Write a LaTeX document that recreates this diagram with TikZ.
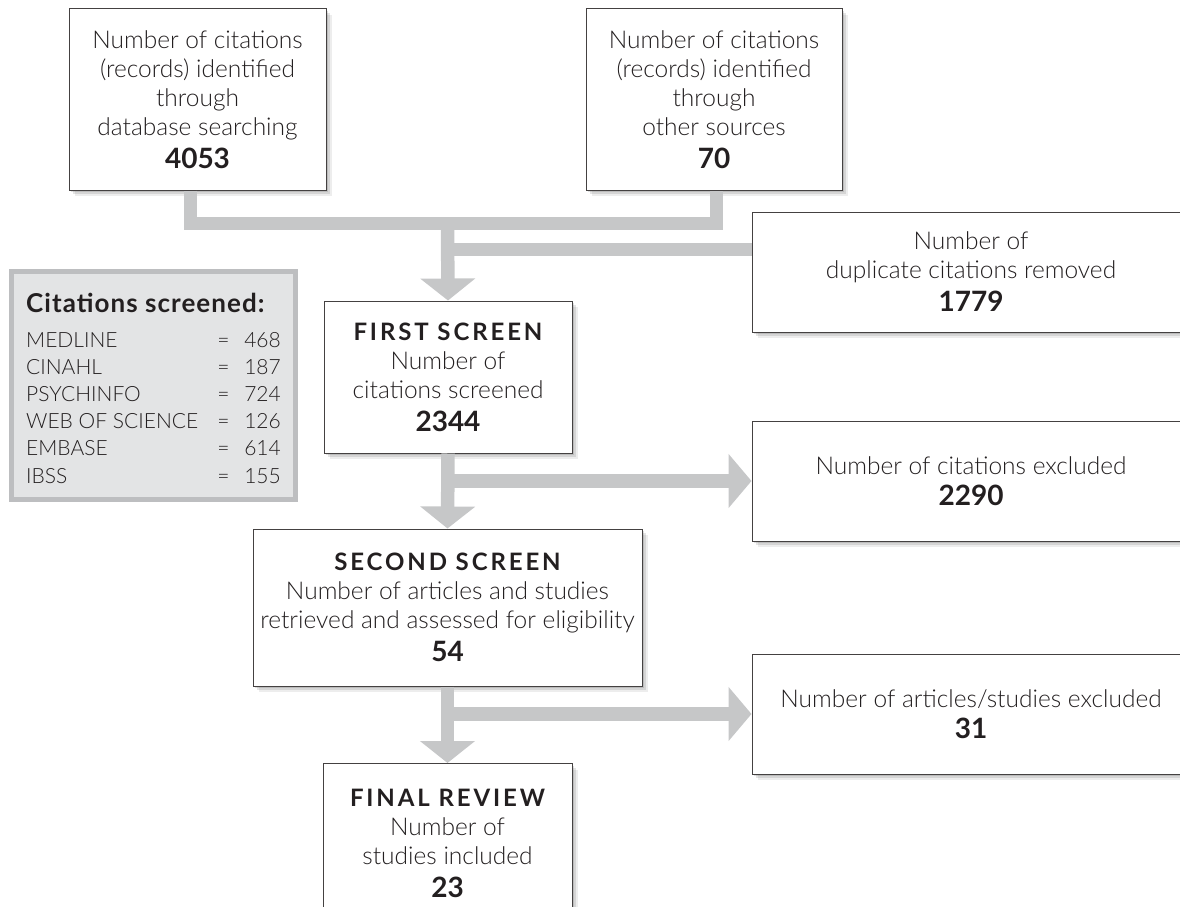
\documentclass[tikz,border=0pt]{standalone}
\usepackage{fontspec}
\setmainfont{Lato}[UprightFont=* Light, BoldFont=* Bold]
\usetikzlibrary{arrows.meta, shadows, positioning}
\definecolor{connGrey}{HTML}{C6C7C8}
\definecolor{listFill}{HTML}{E3E4E5}
\definecolor{listEdge}{HTML}{BDBEC0}
\definecolor{inkDark}{HTML}{231F20}
\newcommand{\bignum}[1]{{\fontsize{28}{30}\selectfont\bfseries #1}}
\newcommand{\stagehead}[1]{{\fontsize{24}{29}\selectfont\bfseries\addfontfeatures{LetterSpace=12}#1}}

\begin{document}
\begin{tikzpicture}[x=1pt, y=-1pt,
    box/.style={draw=inkDark!85, line width=1pt, fill=white, align=center, text=inkDark,
      font=\fontsize{24.5}{29}\selectfont, inner sep=0pt,
      drop shadow={shadow xshift=2pt, shadow yshift=-2pt, opacity=0.12, fill=black},
      drop shadow={shadow xshift=4pt, shadow yshift=-4pt, opacity=0.1, fill=black},
      drop shadow={shadow xshift=6pt, shadow yshift=-6pt, opacity=0.07, fill=black}},
    wide/.style={box, minimum width=438pt, minimum height=120pt},
    conn/.style={draw=connGrey, line width=13.5pt},
    arr/.style={conn, -{Triangle[width=54pt, length=22pt]}},
    listrow/.style={anchor=base west, inner sep=0pt, text=inkDark, font=\fontsize{21}{24}\selectfont}
  ]

  \useasboundingbox (0,0) rectangle (1180,907);

  \node[box, minimum width=257pt, minimum height=181pt] (dbsrc) at (197.5,99.5)
    {Number of citations\\(records) identified\\through\\database searching\\[4pt]\bignum{4053}};
  \node[box, minimum width=256pt, minimum height=181pt] (othsrc) at (714,99.5)
    {Number of citations\\(records) identified\\through\\other sources\\[4pt]\bignum{70}};
  \node[wide] (dupl) at (971,272) {Number of\\duplicate citations removed\\[4pt]\bignum{1779}};
  \node[box, minimum width=248pt, minimum height=152pt] (scrone) at (448,377)
    {\stagehead{FIRST SCREEN}\\Number of\\citations screened\\[4pt]\bignum{2344}};
  \node[wide] (exclone) at (971,481) {Number of citations excluded\\[2pt]\bignum{2290}};
  \node[box, minimum width=389pt, minimum height=157pt] (scrtwo) at (447.5,607.5)
    {\stagehead{SECOND SCREEN}\\Number of articles and studies\\retrieved and assessed for eligibility\\[4pt]\bignum{54}};
  \node[wide] (excltwo) at (971,714) {Number of articles/studies excluded\\[2pt]\bignum{31}};
  \node[box, minimum width=249pt, minimum height=160pt, anchor=north] (final) at (447.5,763)
    {\stagehead{FINAL REVIEW}\\Number of\\studies included\\[4pt]\bignum{23}};

  \coordinate (merge) at (447.5,223.5);
  \coordinate (dupjoin) at (447.5,249.5);
  \draw[conn] ([xshift=-7pt]dbsrc.south) |- (merge) -| ([xshift=2.5pt]othsrc.south);
  \draw[conn] (dupjoin) -- (dupjoin -| dupl.west);
  \draw[arr] (merge) -- (scrone.north);
  \draw[arr] (scrone.south) -- (scrtwo.north);
  \draw[arr, -{Triangle[width=53pt, length=23pt]}] (scrone.south |- exclone.west) -- (exclone.west);
  \draw[arr] (scrtwo.south) -- (final.north);
  \draw[arr, -{Triangle[width=53pt, length=23pt]}] (scrtwo.south |- excltwo.west) -- (excltwo.west);

  \node[draw=listEdge, fill=listFill, line width=5pt, minimum width=284pt, minimum height=228pt,
    inner sep=0pt] (screenlist) at (153.5,385.5) {};
  \node[anchor=base west, inner sep=0pt, text=inkDark,
    font=\fontsize{26}{28}\selectfont\bfseries\addfontfeatures{LetterSpace=4}]
    (listtitle) at (26,312) {Citations screened:};
  \foreach \src/\cnt [count=\i from 0] in {MEDLINE/468, CINAHL/187, PSYCHINFO/724,
      WEB OF SCIENCE/126, EMBASE/614, IBSS/155} {
    \node[listrow] (src-\i) at (26,347+27.2*\i) {\src};
    \node[listrow, anchor=base] (eq-\i) at (223.5,347+27.2*\i) {=};
    \node[listrow, anchor=base east] (cnt-\i) at (281,347+27.2*\i) {\cnt};
  }

\end{tikzpicture}
\end{document}
